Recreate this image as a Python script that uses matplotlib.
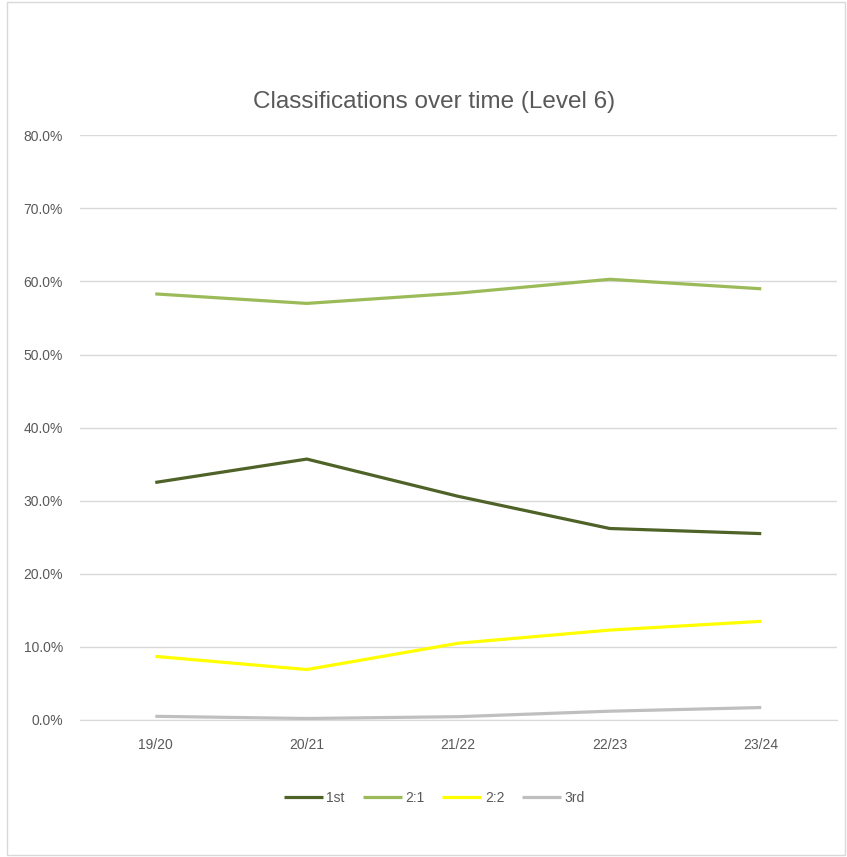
import matplotlib
matplotlib.use("Agg")
import matplotlib.pyplot as plt
from matplotlib.patches import Rectangle
from matplotlib.ticker import FuncFormatter, MultipleLocator

years = ["19/20", "20/21", "21/22", "22/23", "23/24"]
first = [32.5, 35.7, 30.6, 26.2, 25.5]
two_one = [58.3, 57.0, 58.4, 60.3, 59.0]
two_two = [8.7, 6.9, 10.5, 12.3, 13.5]
third = [0.5, 0.2, 0.45, 1.2, 1.7]

series = [("1st", first, "#4F6228"), ("2:1", two_one, "#9BBB59"),
          ("2:2", two_two, "#FFFF00"), ("3rd", third, "#BFBFBF")]

plt.rcParams['font.family'] = ['Liberation Sans', 'DejaVu Sans']

fig = plt.figure(figsize=(8.47, 8.57), dpi=100)
fig.patches.append(Rectangle((0.008, 0.002), 0.99, 0.996, transform=fig.transFigure,
                             fill=False, edgecolor="#D9D9D9", linewidth=1))
ax = fig.add_axes([0.0939, 0.1599, 0.8943, 0.6822])

x = list(range(len(years)))
for name, vals, col in series:
    ax.plot(x, vals, color=col, linewidth=2.3, label=name, solid_capstyle="butt")

ax.set_xlim(-0.5, len(years) - 0.5)
ax.set_ylim(0, 80)
ax.yaxis.set_major_locator(MultipleLocator(10))
ax.yaxis.set_major_formatter(FuncFormatter(lambda v, p: f"{v:.1f}%"))
ax.set_xticks(x)
ax.set_xticklabels(years)
ax.grid(axis="y", color="#D9D9D9", linewidth=1)
ax.set_axisbelow(True)
for s in ["top", "right", "left"]:
    ax.spines[s].set_visible(False)
ax.spines["bottom"].set_color("#D9D9D9")
ax.tick_params(axis="both", length=0, colors="#595959", labelsize=10)
ax.tick_params(axis="y", pad=12)
ax.tick_params(axis="x", pad=13)

fig.text(0.513, 0.881, "Classifications over time (Level 6)", ha="center", va="center",
         fontsize=17.5, color="#595959")

leg = fig.legend(loc="center", bbox_to_anchor=(0.513, 0.069), ncol=4, frameon=False,
                 fontsize=10, handlelength=2.8, columnspacing=1.3, handletextpad=0.25)
for t in leg.get_texts():
    t.set_color("#595959")

fig.savefig("out.png", dpi=100)
